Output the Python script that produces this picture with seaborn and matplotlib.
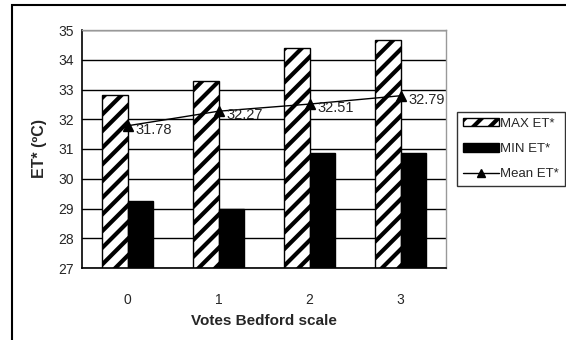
import numpy as np
import pandas as pd
import matplotlib
matplotlib.use("Agg")
import matplotlib.pyplot as plt
from matplotlib.patches import Patch, Rectangle
from matplotlib.lines import Line2D
import seaborn as sns

# values
votes = ["0", "1", "2", "3"]
max_et = [32.8, 33.3, 34.4, 34.65]
min_et = [29.25, 29.0, 30.85, 30.85]
mean_et = [31.78, 32.27, 32.51, 32.79]

sns.set_style("white")
plt.rcParams["font.family"] = ["Liberation Sans", "DejaVu Sans"]
plt.rcParams["hatch.linewidth"] = 3.0

df = pd.DataFrame({
    "vote": votes * 2,
    "et": max_et + min_et,
    "series": ["MAX ET*"] * 4 + ["MIN ET*"] * 4,
})

fig = plt.figure(figsize=(5.66, 3.4), dpi=100)
ax = fig.add_axes([82 / 566, 1 - 268 / 340, (446 - 82) / 566, (268 - 30) / 340])

sns.barplot(data=df, x="vote", y="et", hue="series", order=votes,
            hue_order=["MAX ET*", "MIN ET*"],
            palette={"MAX ET*": "white", "MIN ET*": "black"},
            width=0.57, edgecolor="black", linewidth=1.0, ax=ax, legend=False)

for bar in ax.patches[:len(votes)]:
    bar.set_hatch("//")

xpos = np.arange(len(votes))
ax.plot(xpos, mean_et, color="black", lw=1.0, marker="^", ms=6.5, zorder=5)
for x, v in zip(xpos, mean_et):
    ax.annotate(f"{v:.2f}", (x, v), xytext=(6, -3), textcoords="offset points",
                va="center", ha="left", fontsize=10.5, zorder=6)

ax.set_ylim(27, 35)
ax.set_xlim(-0.5, 3.5)
ax.set_yticks(range(27, 36))
ax.yaxis.grid(True, color="black", lw=1.0)
ax.set_axisbelow(True)

ax.set_xticks(xpos)
ax.set_xticklabels(votes)
ax.set_xticks(np.arange(-0.5, 4.0, 1.0), minor=True)
ax.tick_params(axis="x", which="major", length=0, pad=18, labelsize=10)
ax.tick_params(axis="x", which="minor", length=8, width=1, direction="inout", color="black")
ax.tick_params(axis="y", length=8, width=1, direction="inout", color="black", labelsize=10, pad=2)

for s in ["top", "right"]:
    ax.spines[s].set_color("#999999")
    ax.spines[s].set_linewidth(1.0)
for s in ["left", "bottom"]:
    ax.spines[s].set_color("black")
    ax.spines[s].set_linewidth(1.2)

ax.set_xlabel("Votes Bedford scale", fontsize=11, fontweight="bold", labelpad=5)
ax.set_ylabel("ET* (ºC)", fontsize=11.5, fontweight="bold", labelpad=8)

handles = [
    Patch(facecolor="white", edgecolor="black", hatch="//", label="MAX ET*"),
    Patch(facecolor="black", edgecolor="black", label="MIN ET*"),
    Line2D([0], [0], color="black", lw=1.0, marker="^", ms=5.5, label="Mean ET*"),
]
leg = fig.legend(handles=handles, loc="upper left",
                 bbox_to_anchor=(457 / 566, 1 - 112 / 340), fontsize=9.5,
                 frameon=True, fancybox=False, edgecolor="black",
                 handlelength=2.7, handleheight=0.6, handletextpad=0.1,
                 borderpad=0.45, labelspacing=1.0, borderaxespad=0)
leg.get_frame().set_linewidth(1.0)

fig.patches.append(Rectangle((12 / 566, -0.02), 1.0, 1 - 5 / 340 + 0.02,
                             transform=fig.transFigure, fill=False,
                             edgecolor="black", lw=1.5))

fig.savefig("out.png", dpi=100)
